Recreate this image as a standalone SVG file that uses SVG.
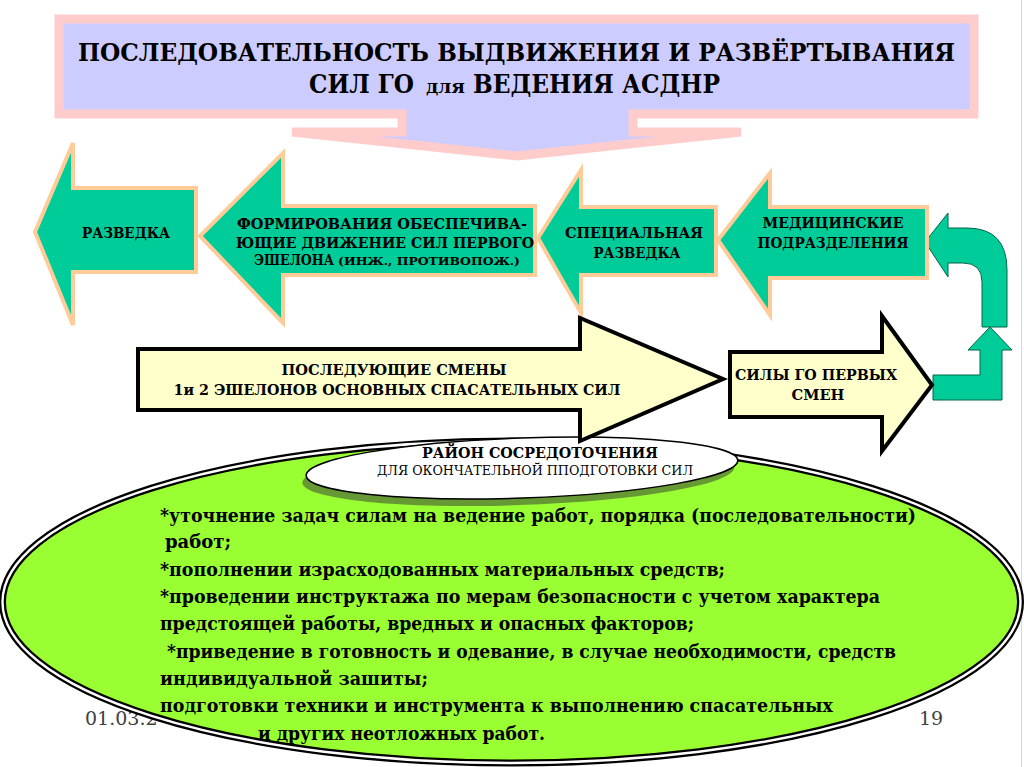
<svg xmlns="http://www.w3.org/2000/svg" width="1024" height="767" viewBox="0 0 1024 767">
<defs>
<style>
text{font-family:"DejaVu Serif","Liberation Serif","Noto Serif","Times New Roman",serif}
.t{font-weight:bold;fill:#000}
.g{fill:#00CC99;stroke:#FFCC99;stroke-width:4;stroke-linejoin:miter}
.y{fill:#FFFFCC;stroke:#000;stroke-width:4;stroke-linejoin:miter}
.lbl{font-size:14px;text-anchor:middle}
.body{font-size:18px}
.foot{font-size:19px;fill:#404040}
</style>
</defs>
<rect x="0" y="0" width="1024" height="767" fill="#fff"/>
<line x1="1021.5" y1="0" x2="1021.5" y2="767" stroke="#d8d8d8" stroke-width="1"/>

<g id="title">
<path d="M59,19 H974 V114 H633 V132 H741 L517,156 L292,132 H402 V114 H59 Z" fill="#CCCCFF" stroke="#FFCCCC" stroke-width="9" stroke-linejoin="miter"/>
<text class="t" x="78" y="61" font-size="25" textLength="877" lengthAdjust="spacingAndGlyphs">ПОСЛЕДОВАТЕЛЬНОСТЬ ВЫДВИЖЕНИЯ И РАЗВЁРТЫВАНИЯ</text>
<text class="t" x="309" y="93" font-size="26" textLength="105" lengthAdjust="spacingAndGlyphs">СИЛ ГО</text>
<text class="t" x="426" y="93" font-size="19" textLength="39" lengthAdjust="spacingAndGlyphs">для</text>
<text class="t" x="473" y="93" font-size="26" textLength="247" lengthAdjust="spacingAndGlyphs">ВЕДЕНИЯ АСДНР</text>
</g>

<g id="footer">
<text class="foot" x="85" y="725">01.03.2</text>
<text class="foot" x="919" y="725">19</text>
</g>

<g id="concentration-area">
<ellipse cx="511.5" cy="602" rx="509" ry="161" fill="#99FF33" stroke="#000" stroke-width="7"/>
<ellipse cx="511.5" cy="602" rx="509" ry="161" fill="none" stroke="#fff" stroke-width="2.4"/>
<text class="t body" x="160" y="522" textLength="756" lengthAdjust="spacingAndGlyphs">*уточнение  задач силам на ведение работ, порядка (последовательности)</text>
<text class="t body" x="165" y="548">работ;</text>
<text class="t body" x="160" y="576" textLength="565" lengthAdjust="spacingAndGlyphs">*пополнении израсходованных материальных средств;</text>
<text class="t body" x="160" y="603" textLength="720" lengthAdjust="spacingAndGlyphs">*проведении инструктажа по мерам безопасности с учетом характера</text>
<text class="t body" x="160" y="630" textLength="534" lengthAdjust="spacingAndGlyphs">предстоящей работы, вредных и опасных факторов;</text>
<text class="t body" x="167" y="658" textLength="729" lengthAdjust="spacingAndGlyphs">*приведение в готовность и одевание, в случае необходимости, средств</text>
<text class="t body" x="160" y="685" textLength="268" lengthAdjust="spacingAndGlyphs">индивидуальной зашиты;</text>
<text class="t body" x="160" y="712" textLength="673" lengthAdjust="spacingAndGlyphs">подготовки техники и инструмента к выполнению спасательных</text>
<text class="t body" x="258" y="740" textLength="287" lengthAdjust="spacingAndGlyphs">и других неотложных работ.</text>
</g>

<g id="area-label">
<ellipse cx="518" cy="475" rx="216" ry="30" transform="rotate(-2 522 468)" fill="#669933"/>
<ellipse cx="522" cy="468" rx="216" ry="30" transform="rotate(-2 522 468)" fill="#fff" stroke="#000" stroke-width="1.5"/>
<text class="t" x="540" y="458" font-size="15" text-anchor="middle" textLength="236" lengthAdjust="spacingAndGlyphs">РАЙОН СОСРЕДОТОЧЕНИЯ</text>
<text x="535" y="475" font-size="13" text-anchor="middle" textLength="316" lengthAdjust="spacingAndGlyphs">ДЛЯ ОКОНЧАТЕЛЬНОЙ ППОДГОТОВКИ СИЛ</text>
</g>

<g id="connectors">
<path d="M933,375 H980 V350 H968 L990,327 L1012,350 H1002 V400 H933 Z" fill="#00CC99" stroke="#006644" stroke-width="1"/>
<path d="M982,327 V282 Q982,263 963,263 H948 V277 L925,242 L948,213 V228 H967 Q1007,228 1007,270 V327 Z" fill="#00CC99" stroke="#006644" stroke-width="1"/>
</g>

<g id="razvedka">
<path class="g" d="M35,232 L73,143 V188 H196 V272 H73 V325 Z"/>
<text class="t lbl" x="126" y="238" textLength="88" lengthAdjust="spacingAndGlyphs">РАЗВЕДКА</text>
</g>

<g id="formirovaniya">
<path class="g" d="M200,236 L283,153 V206 H535 V275 H283 V323 Z"/>
<text class="t lbl" x="382" y="229" textLength="290" lengthAdjust="spacingAndGlyphs">ФОРМИРОВАНИЯ ОБЕСПЕЧИВА-</text>
<text class="t lbl" x="385" y="248" textLength="298" lengthAdjust="spacingAndGlyphs">ЮЩИЕ ДВИЖЕНИЕ СИЛ ПЕРВОГО</text>
<text class="t" x="254" y="265" font-size="14" textLength="80" lengthAdjust="spacingAndGlyphs">ЭШЕЛОНА</text>
<text class="t" x="338" y="265" font-size="11" textLength="182" lengthAdjust="spacingAndGlyphs">(ИНЖ., ПРОТИВОПОЖ.)</text>
</g>

<g id="spec-razvedka">
<path class="g" d="M538,238 L581,170 V207 H716 V275 H581 V313 Z"/>
<text class="t lbl" x="634" y="238" textLength="138" lengthAdjust="spacingAndGlyphs">СПЕЦИАЛЬНАЯ</text>
<text class="t lbl" x="637" y="258" textLength="87" lengthAdjust="spacingAndGlyphs">РАЗВЕДКА</text>
</g>

<g id="medical">
<path class="g" d="M718,240 L770,173 V207 H927 V278 H770 V315 Z"/>
<text class="t lbl" x="833" y="228" textLength="141" lengthAdjust="spacingAndGlyphs">МЕДИЦИНСКИЕ</text>
<text class="t lbl" x="833" y="248" textLength="151" lengthAdjust="spacingAndGlyphs">ПОДРАЗДЕЛЕНИЯ</text>
</g>

<g id="next-shifts">
<path class="y" d="M138,349 H580 V318 L723,379 L580,441 V410 H138 Z"/>
<text class="t lbl" x="394" y="375" textLength="225" lengthAdjust="spacingAndGlyphs">ПОСЛЕДУЮЩИЕ СМЕНЫ</text>
<text class="t lbl" x="397" y="395" textLength="447" lengthAdjust="spacingAndGlyphs">1и 2 ЭШЕЛОНОВ ОСНОВНЫХ СПАСАТЕЛЬНЫХ СИЛ</text>
</g>

<g id="first-shifts">
<path class="y" d="M730,352 H882 V316 L932,385 L882,451 V417 H730 Z"/>
<text class="t lbl" x="816" y="380" textLength="162" lengthAdjust="spacingAndGlyphs">СИЛЫ ГО ПЕРВЫХ</text>
<text class="t lbl" x="818" y="400" textLength="53" lengthAdjust="spacingAndGlyphs">СМЕН</text>
</g>
</svg>
